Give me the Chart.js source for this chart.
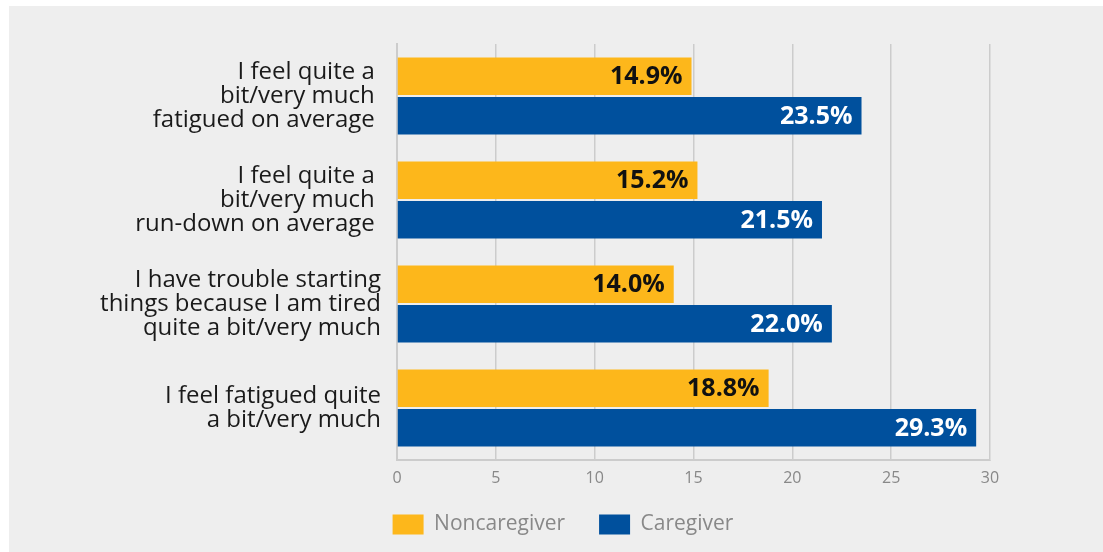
<!DOCTYPE html>
<html>
<head>
<meta charset="utf-8">
<script src="https://cdn.jsdelivr.net/npm/chart.js@4"></script>
<style>
  html, body { margin: 0; padding: 0; background: #ffffff; }
  #panel { position: absolute; left: 9px; top: 6px; width: 1094px; height: 546px; background: #eeeeee; }
</style>
</head>
<body>
<div id="panel"><canvas id="myChart" width="1094" height="546"></canvas></div>
<script>
var categories = [
    ["I feel quite a ", "bit/very much ", "fatigued on average "],
    ["I feel quite a ", "bit/very much ", "run-down on average "],
    ["I have trouble starting", "things because I am tired", "quite a bit/very much"],
    ["I feel fatigued quite", "a bit/very much"]
];
var noncaregiver = [14.9, 15.2, 14.0, 18.8];
var caregiver = [23.5, 21.5, 22.0, 29.3];
var xTicks = [0, 5, 10, 15, 20, 25, 30];

// value labels drawn at the end of each bar
var barLabels = {
    id: 'barLabels',
    afterDatasetsDraw: function (chart) {
        var ctx = chart.ctx;
        ctx.save();
        ctx.font = 'bold 25px "Open Sans"';
        ctx.textAlign = 'right';
        ctx.textBaseline = 'middle';
        chart.data.datasets.forEach(function (ds, i) {
            var meta = chart.getDatasetMeta(i);
            ctx.fillStyle = i === 0 ? '#111111' : '#ffffff';
            meta.data.forEach(function (bar, j) {
                ctx.fillText(ds.data[j].toFixed(1) + '%', bar.x - 9, bar.y + 1);
            });
        });
        ctx.restore();
    }
};

// legend sits centred on the whole panel, wider gap between items
var legendShift = {
    id: 'legendShift',
    afterLayout: function (chart) {
        var lg = chart.legend;
        lg.options.labels.padding = 34;
        lg.left = 107;
        lg.top -= 16;
        lg.bottom -= 16;
    }
};

var ctx = document.getElementById("myChart");

var myChart = new Chart(ctx, {
    type: 'bar',
    data: {
        labels: categories,
        datasets: [
            {
                label: "Noncaregiver",
                backgroundColor: "#fdb71b",
                data: noncaregiver
            },
            {
                label: "Caregiver",
                backgroundColor: "#00509d",
                data: caregiver
            }
        ]
    },
    options: {
        indexAxis: 'y',
        responsive: false,
        animation: false,
        barPercentage: 0.95,
        categoryPercentage: 0.76,
        layout: { padding: { left: 0, right: 113, top: 38, bottom: 1 } },
        plugins: {
            tooltip: { enabled: false },
            legend: {
                position: 'bottom',
                labels: {
                    boxWidth: 31,
                    boxHeight: 20,
                    padding: 24,
                    color: '#888888',
                    font: { family: 'Open Sans', size: 21 }
                }
            }
        },
        scales: {
            x: {
                min: 0,
                max: 30,
                afterBuildTicks: function (scale) {
                    scale.ticks = xTicks.map(function (v) { return { value: v }; });
                },
                grid: { color: '#cccccc', lineWidth: 1.5, tickLength: 0 },
                border: { color: '#cccccc', width: 2 },
                ticks: { color: '#888888', font: { family: 'Open Sans', size: 16, lineHeight: 1 }, padding: 10 }
            },
            y: {
                afterFit: function (scale) { scale.width = 388; },
                grid: { display: false },
                border: { color: '#cccccc', width: 2 },
                ticks: { color: '#1a1a1a', font: { family: 'Open Sans', size: 24, lineHeight: 1.0 }, padding: 8 }
            }
        }
    },
    plugins: [barLabels, legendShift]
});
</script>
</body>
</html>
